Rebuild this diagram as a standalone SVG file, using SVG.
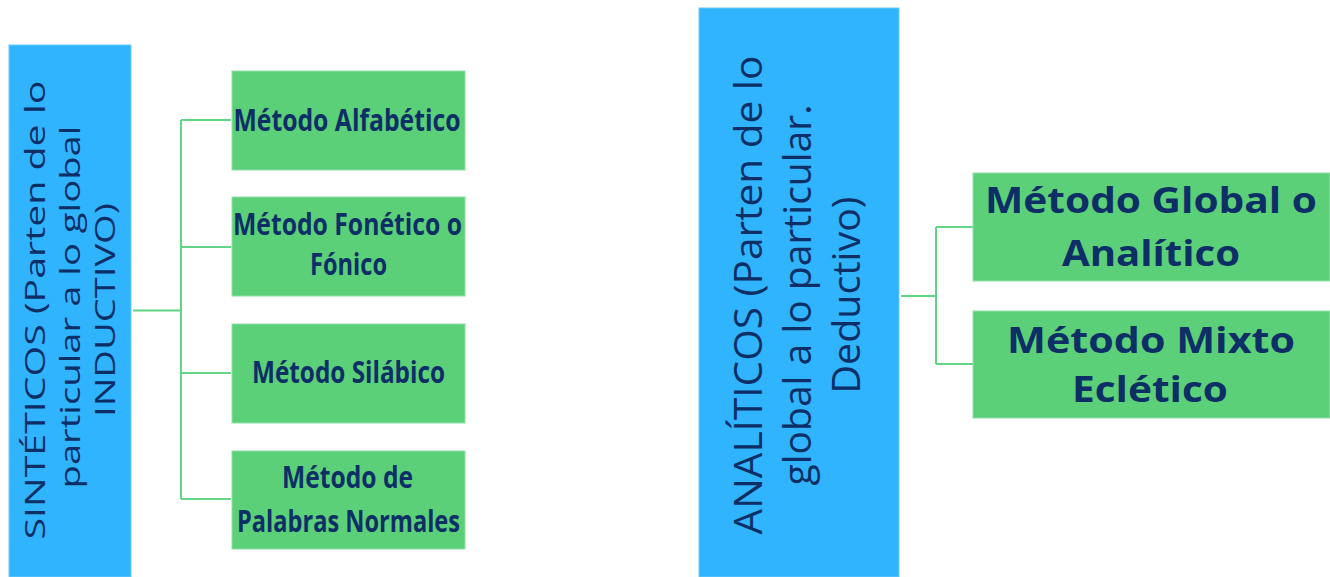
<svg xmlns="http://www.w3.org/2000/svg" width="1330" height="577" viewBox="0 0 1330 577">
<style>
.blue{fill:#31B4FE;stroke:#6cc9fb;stroke-width:1}
.green{fill:#5CCF79;stroke:#8fe0a5;stroke-width:1}
.conn{fill:none;stroke:#62D687;stroke-width:2}
.vt{font-family:"Open Sans","DejaVu Sans",sans-serif;fill:#0d2f66;text-anchor:middle}
.gt{font-family:"Open Sans","DejaVu Sans",sans-serif;font-weight:bold;fill:#0d2f66;text-anchor:middle}
</style>
<rect width="1330" height="577" fill="#ffffff"/>
<g id="connectors">
<path class="conn" d="M133 310.5H181M181 120V499M181 120H231M181 247H231M181 373H231M181 499H231"/>
<path class="conn" d="M901 296H936M936 227V364M936 227H973M936 364H973"/>
</g>
<g id="sinteticos">
<rect class="blue" x="9" y="45" width="122" height="532"/>
<g transform="translate(0,310) rotate(-90)">
<text class="vt" x="0" y="45" font-size="28" textLength="459" lengthAdjust="spacingAndGlyphs">SINTÉTICOS (Parten de lo</text>
<text class="vt" x="3" y="80" font-size="28" textLength="363" lengthAdjust="spacingAndGlyphs">particular a lo global</text>
<text class="vt" x="0" y="115" font-size="28" textLength="214" lengthAdjust="spacingAndGlyphs">INDUCTIVO)</text>
</g>
</g>
<g id="alfabetico">
<rect class="green" x="232" y="71" width="233" height="99"/>
<text class="gt" x="347" y="131" font-size="30" textLength="227" lengthAdjust="spacingAndGlyphs">Método Alfabético</text>
</g>
<g id="fonetico">
<rect class="green" x="232" y="197" width="233" height="99"/>
<text class="gt" x="347.5" y="235" font-size="30" textLength="229" lengthAdjust="spacingAndGlyphs">Método Fonético o</text>
<text class="gt" x="348.5" y="275" font-size="30" textLength="77" lengthAdjust="spacingAndGlyphs">Fónico</text>
</g>
<g id="silabico">
<rect class="green" x="232" y="324" width="233" height="99"/>
<text class="gt" x="348.5" y="383" font-size="30" textLength="193" lengthAdjust="spacingAndGlyphs">Método Silábico</text>
</g>
<g id="palabras">
<rect class="green" x="232" y="451" width="233" height="98"/>
<text class="gt" x="347.5" y="488" font-size="30" textLength="131" lengthAdjust="spacingAndGlyphs">Método de</text>
<text class="gt" x="348.5" y="532" font-size="30" textLength="223" lengthAdjust="spacingAndGlyphs">Palabras Normales</text>
</g>
<g id="analiticos">
<rect class="blue" x="699" y="8" width="200" height="569"/>
<g transform="translate(0,295) rotate(-90)">
<text class="vt" x="0" y="762" font-size="38" textLength="479" lengthAdjust="spacingAndGlyphs">ANALÍTICOS (Parten de lo</text>
<text class="vt" x="0" y="811" font-size="38" textLength="381" lengthAdjust="spacingAndGlyphs">global a lo particular.</text>
<text class="vt" x="0" y="860" font-size="38" textLength="197" lengthAdjust="spacingAndGlyphs">Deductivo)</text>
</g>
</g>
<g id="global">
<rect class="green" x="973" y="173" width="357" height="108"/>
<text class="gt" x="1151" y="213" font-size="35" textLength="332" lengthAdjust="spacingAndGlyphs">Método Global o</text>
<text class="gt" x="1151" y="266" font-size="35" textLength="178" lengthAdjust="spacingAndGlyphs">Analítico</text>
</g>
<g id="mixto">
<rect class="green" x="973" y="311" width="357" height="107"/>
<text class="gt" x="1151" y="353" font-size="35" textLength="288" lengthAdjust="spacingAndGlyphs">Método Mixto</text>
<text class="gt" x="1150" y="402" font-size="35" textLength="156" lengthAdjust="spacingAndGlyphs">Eclético</text>
</g>
</svg>
